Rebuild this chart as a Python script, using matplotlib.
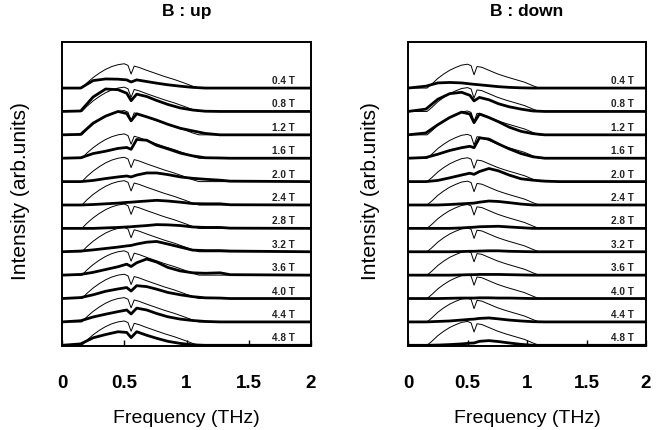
import matplotlib

matplotlib.use("Agg")
import matplotlib.pyplot as plt
import numpy as np

plt.rcParams["font.family"] = ["Liberation Sans", "DejaVu Sans"]

# field labels, top row first
fields = ["0.4 T", "0.8 T", "1.2 T", "1.6 T", "2.0 T", "2.4 T",
          "2.8 T", "3.2 T", "3.6 T", "4.0 T", "4.4 T", "4.8 T"]

# thin trace (reference spectrum), row units
f_thin = [0, 0.16, 0.2, 0.25, 0.3, 0.35, 0.4, 0.45, 0.5, 0.53, 0.555,
          0.58, 0.62, 0.68, 0.75, 0.82, 0.9, 0.98, 1.05, 1.1, 2.0]
thin_up = [0, 0, 0.22, 0.45, 0.64, 0.8, 0.92, 1.0, 1.04, 0.97, 0.6,
           0.94, 0.88, 0.76, 0.63, 0.5, 0.37, 0.22, 0.08, 0, 0]
thin_down = [0, 0, 0.17, 0.41, 0.6, 0.76, 0.88, 0.98, 1.02, 0.96, 0.57,
             0.92, 0.89, 0.76, 0.61, 0.49, 0.37, 0.25, 0.1, 0, 0]

# thick trace (spectrum at field B), row units
f_thick = [0, 0.15, 0.25, 0.35, 0.45, 0.52, 0.555, 0.6, 0.68, 0.76,
           0.85, 0.95, 1.05, 1.15, 1.27, 1.35, 2.0]
thick_up = [
    [0, 0, 0.32, 0.39, 0.38, 0.35, 0.26, 0.35, 0.28, 0.21, 0.14, 0.08, 0.03, 0, 0, 0, 0],
    [0, 0.02, 0.62, 0.96, 0.93, 0.78, 0.46, 0.74, 0.64, 0.47, 0.3, 0.15, 0.06, 0.01, 0, 0, 0],
    [0, 0.02, 0.5, 0.8, 1.0, 0.91, 0.6, 0.9, 0.77, 0.63, 0.45, 0.28, 0.17, 0.06, 0, 0, 0],
    [0, 0.02, 0.2, 0.3, 0.42, 0.46, 0.38, 0.8, 0.77, 0.55, 0.4, 0.22, 0.1, 0.02, 0.01, 0, 0],
    [0, 0, 0.05, 0.13, 0.2, 0.24, 0.2, 0.28, 0.37, 0.37, 0.3, 0.2, 0.14, 0.1, 0.06, 0.02, 0],
    [0, 0, 0.02, 0.05, 0.08, 0.11, 0.12, 0.14, 0.17, 0.2, 0.17, 0.12, 0.06, 0.05, 0.05, 0.01, 0],
    [0, 0, 0, 0.02, 0.04, 0.06, 0.07, 0.09, 0.12, 0.16, 0.15, 0.12, 0.06, 0.04, 0.04, 0.01, 0],
    [0, 0.03, 0.08, 0.14, 0.2, 0.25, 0.27, 0.33, 0.41, 0.44, 0.33, 0.2, 0.07, 0.05, 0.05, 0.03, 0],
    [0, 0.03, 0.12, 0.24, 0.36, 0.47, 0.37, 0.53, 0.69, 0.56, 0.33, 0.18, 0.1, 0.08, 0.1, 0.02, 0],
    [0, 0.04, 0.16, 0.31, 0.41, 0.47, 0.32, 0.55, 0.51, 0.4, 0.26, 0.16, 0.08, 0.03, 0.02, 0, 0],
    [0, 0.05, 0.21, 0.33, 0.44, 0.51, 0.34, 0.59, 0.51, 0.36, 0.22, 0.12, 0.06, 0.02, 0, 0, 0],
    [0, 0.06, 0.32, 0.46, 0.58, 0.55, 0.33, 0.58, 0.43, 0.3, 0.17, 0.08, 0.02, 0, 0, 0, 0],
]
thick_down = [
    [0, 0.08, 0.22, 0.24, 0.22, 0.18, 0.16, 0.14, 0.1, 0.06, 0.03, 0.01, 0, 0, 0, 0, 0],
    [0, 0.1, 0.52, 0.76, 0.82, 0.69, 0.45, 0.6, 0.5, 0.33, 0.2, 0.1, 0.02, 0, 0, 0, 0],
    [0, 0.08, 0.43, 0.74, 0.97, 0.89, 0.52, 0.89, 0.74, 0.56, 0.33, 0.15, 0.05, 0, 0, 0, 0],
    [0, 0.03, 0.17, 0.33, 0.45, 0.51, 0.45, 0.87, 0.82, 0.61, 0.4, 0.2, 0.06, 0, 0, 0, 0],
    [0, 0, 0.05, 0.16, 0.28, 0.36, 0.31, 0.43, 0.56, 0.46, 0.28, 0.12, 0.06, 0.02, 0, 0, 0],
    [0, 0, 0, 0.02, 0.05, 0.07, 0.08, 0.12, 0.17, 0.15, 0.1, 0.04, 0, 0, 0, 0, 0],
    [0, 0, 0, 0, 0.02, 0.04, 0.05, 0.07, 0.08, 0.09, 0.06, 0.03, 0, 0, 0, 0, 0],
    [0, 0, 0, 0, 0.01, 0.02, 0.02, 0.03, 0.04, 0.04, 0.02, 0.01, 0, 0, 0, 0, 0],
    [0, 0, 0, 0, 0.01, 0.02, 0.02, 0.03, 0.03, 0.03, 0.02, 0.01, 0, 0, 0, 0, 0],
    [0, 0, 0, 0.01, 0.02, 0.02, 0.02, 0.03, 0.03, 0.02, 0.02, 0.01, 0, 0, 0, 0, 0],
    [0, 0, 0.02, 0.04, 0.08, 0.11, 0.12, 0.15, 0.17, 0.13, 0.08, 0.04, 0.01, 0, 0, 0, 0],
    [0, 0, 0.01, 0.03, 0.06, 0.09, 0.1, 0.17, 0.2, 0.16, 0.1, 0.04, 0, 0, 0, 0, 0],
]

xticks = [0, 0.5, 1, 1.5, 2]
xticklabels = ["0", "0.5", "1", "1.5", "2"]


def draw_panel(ax, title, thin, thick, label_x, ylab_x):
    n = len(fields)
    for k, name in enumerate(fields):
        base = n - 1 - k
        ax.plot(f_thin, np.asarray(thin) + base, color="black", lw=0.7, zorder=2)
        ax.plot(f_thick, np.asarray(thick[k]) + base, color="black", lw=2.0,
                solid_joinstyle="round", zorder=3)
        ax.text(label_x, base + 0.3, name, fontsize=7.2, ha="center",
                va="center", fontweight="bold", color="#222222")
    ax.set_xlim(0, 2)
    ax.set_ylim(-0.03, 12.97)
    ax.set_yticks([])
    ax.set_xticks(xticks)
    ax.set_xticklabels(xticklabels, fontsize=13.5, fontweight="bold")
    ax.tick_params(axis="x", direction="in", length=4, width=1, pad=21)
    for sp in ax.spines.values():
        sp.set_linewidth(1.4)
    ax.set_title(title, fontsize=12.5, fontweight="bold", pad=19)
    ax.set_xlabel("Frequency (THz)", fontsize=14, labelpad=13)
    ax.set_ylabel("Intensity (arb.units)", fontsize=15)
    ax.yaxis.set_label_coords(ylab_x, 0.51)


fig = plt.figure(figsize=(6.62, 4.30), dpi=100)
ax1 = fig.add_axes([62 / 662, 1 - 346 / 430, 249 / 662, 304 / 430])
ax2 = fig.add_axes([408 / 662, 1 - 346 / 430, 238 / 662, 304 / 430])

draw_panel(ax1, "B : up", thin_up, thick_up, 1.78, -0.128)
draw_panel(ax2, "B : down", thin_down, thick_down, 1.80, -0.118)

fig.savefig("out.png", dpi=100)
